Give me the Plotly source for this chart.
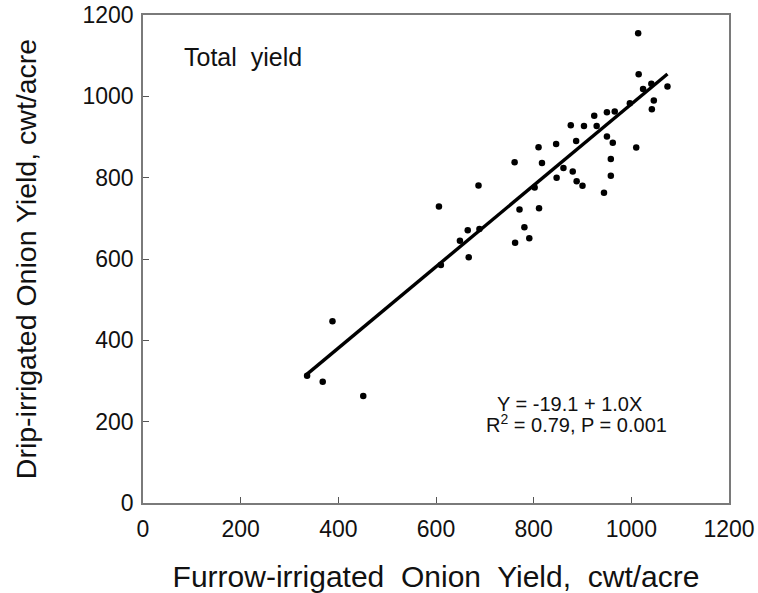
import plotly.graph_objects as go

# Furrow-irrigated (x) vs drip-irrigated (y) onion yield, cwt/acre
furrow_yield = [336, 368, 388, 451, 606, 610, 649, 665, 667, 687, 689, 761, 762, 771,
                781, 791, 802, 810, 811, 817, 846, 847, 861, 876, 880, 887, 888, 900,
                903, 924, 929, 944, 950, 950, 958, 958, 962, 966, 997, 1010, 1014, 1015,
                1024, 1041, 1042, 1046, 1074]
drip_yield = [313, 298, 447, 263, 729, 585, 645, 671, 604, 781, 674, 838, 640, 722,
              678, 651, 776, 875, 725, 836, 883, 800, 824, 929, 815, 890, 791, 780,
              927, 952, 927, 763, 961, 901, 846, 805, 886, 963, 983, 874, 1155, 1054,
              1018, 1031, 968, 990, 1024]

# Regression line end points (Y = -19.1 + 1.0X)
fit_x = [336, 1074]
fit_y = [317, 1055]

x_ticks = [0, 200, 400, 600, 800, 1000, 1200]
y_ticks = [0, 200, 400, 600, 800, 1000, 1200]

font = "Liberation Sans, Arial, sans-serif"
ink = "#111111"

fig = go.Figure()
fig.add_trace(go.Scatter(x=fit_x, y=fit_y, mode="lines",
                         line=dict(color="black", width=3.4), showlegend=False))
fig.add_trace(go.Scatter(x=furrow_yield, y=drip_yield, mode="markers",
                         marker=dict(color="black", size=6.5), showlegend=False))

axis_common = dict(
    showgrid=False, zeroline=False, showline=True, mirror=True,
    linecolor="#7a7a7a", linewidth=1.5, automargin=False,
    ticks="inside", ticklen=6, tickcolor="#555555", tickwidth=1,
    tickfont=dict(family=font, size=23, color=ink),
)

fig.update_layout(
    width=758, height=593,
    margin=dict(l=143, r=29, t=15, b=90, autoexpand=False),
    paper_bgcolor="white", plot_bgcolor="white",
    xaxis=dict(range=[0, 1200], tickvals=x_ticks,
               title=dict(text="Furrow-irrigated  Onion  Yield,  cwt/acre",
                          font=dict(family=font, size=30, color=ink), standoff=25),
               ticklabelstandoff=5,
               **axis_common),
    yaxis=dict(range=[0, 1200], tickvals=y_ticks,
               title=dict(text="Drip-irrigated Onion Yield, cwt/acre",
                          font=dict(family=font, size=28.5, color=ink), standoff=38),
               ticklabelstandoff=3,
               **axis_common),
    annotations=[
        dict(x=205, y=1097, xref="x", yref="y", text="Total  yield", showarrow=False,
             font=dict(family=font, size=25, color=ink)),
        dict(x=874, y=243, xref="x", yref="y", text="Y = -19.1 + 1.0X", showarrow=False,
             font=dict(family=font, size=20, color=ink)),
        dict(x=887, y=196, xref="x", yref="y", text="R<sup>2</sup> = 0.79, P = 0.001",
             showarrow=False, font=dict(family=font, size=20, color=ink)),
    ],
)

fig.write_html("out.html")
